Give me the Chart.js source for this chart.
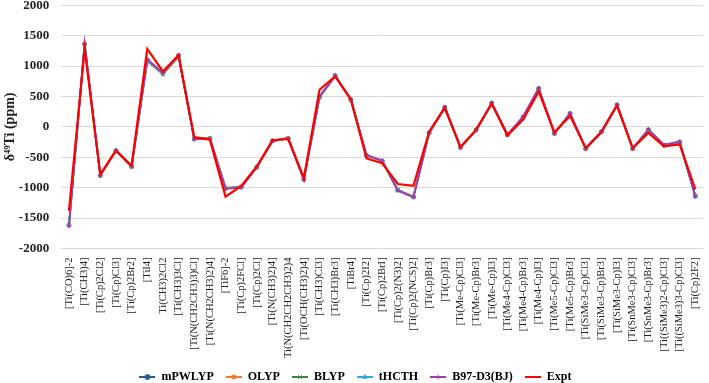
<!DOCTYPE html>
<html>
<head>
<meta charset="utf-8">
<script src="https://cdn.jsdelivr.net/npm/chart.js@4"></script>
<style>
  html, body { margin: 0; padding: 0; background: #fff; }
  #wrap { width: 709px; height: 383px; }
</style>
</head>
<body>
<div id="wrap"><canvas id="shift-chart"></canvas></div>
<script>
const categories = [
  "[Ti(CO)6]-2", "[Ti(CH3)4]", "[Ti(Cp)2Cl2]", "[Ti(Cp)Cl3]", "[Ti(Cp)2Br2]",
  "[TiI4]", "Ti(CH3)2Cl2", "[Ti(CH3)3Cl]", "[Ti(N(CH2CH3)3)Cl]", "[Ti(N(CH2CH3)2)4]",
  "[TiF6]-2", "[Ti(Cp)2FCl]", "[Ti(Cp)2Cl]", "[Ti(N(CH3)2)4]", "Ti(N(CH2CH2CH3)2)4",
  "[Ti(OCH(CH3)2)4]", "[Ti(CH3)Cl3]", "[Ti(CH3)Br3]", "[TiBr4]", "[Ti(Cp)2I2]",
  "[Ti(Cp)2BrI]", "[Ti(Cp)2(N3)2]", "[Ti(Cp)2(NCS)2]", "[Ti(Cp)Br3]", "[Ti(Cp)I3]",
  "[Ti(Me-Cp)Cl3]", "[Ti(Me-Cp)Br3]", "[Ti(Me-Cp)I3]", "[Ti(Me4-Cp)Cl3]", "[Ti(Me4-Cp)Br3]",
  "[Ti(Me4-Cp)I3]", "[Ti(Me5-Cp)Cl3]", "[Ti(Me5-Cp)Br3]", "[Ti(SiMe3-Cp)Cl3]", "[Ti(SiMe3-Cp)Br3]",
  "[Ti(SiMe3-Cp)I3]", "[Ti(SnMe3-Cp)Cl3]", "[Ti(SnMe3-Cp)Br3]", "[Ti((SiMe3)2-Cp)Cl3]", "[Ti((SiMe3)3-Cp)Cl3]",
  "[Ti(Cp)2F2]",
];

const mpwlyp = [-1620, 1360, -800, -390, -650, 1100, 880, 1170, -200, -190, -1010, -990, -660, -230, -190, -865, 490, 840, 450, -470, -560, -1040, -1150, -100, 320, -340, -50, 390, -130, 160, 630, -110, 220, -360, -80, 360, -360, -50, -300, -250, -1140];
const olyp = [-1610, 1355, -805, -395, -665, 1080, 860, 1150, -195, -185, -1000, -985, -670, -225, -180, -860, 480, 830, 445, -475, -565, -1035, -1145, -110, 310, -345, -60, 380, -140, 150, 615, -115, 210, -365, -85, 350, -365, -60, -310, -260, -1130];
const blyp = [-1615, 1350, -800, -390, -655, 1085, 875, 1160, -200, -190, -1010, -990, -660, -235, -190, -865, 490, 835, 450, -470, -560, -1040, -1150, -100, 315, -340, -55, 385, -135, 155, 620, -110, 215, -360, -80, 355, -360, -55, -305, -255, -1135];
const thcth = [-1620, 1360, -795, -385, -650, 1095, 870, 1170, -205, -190, -1015, -995, -655, -230, -185, -860, 495, 840, 455, -465, -555, -1045, -1155, -105, 320, -335, -50, 390, -130, 160, 625, -105, 220, -355, -75, 360, -355, -50, -300, -250, -1140];
const b97 = [-1625, 1365, -800, -390, -650, 1110, 890, 1180, -205, -195, -1020, -1000, -660, -235, -190, -870, 500, 845, 455, -465, -555, -1050, -1160, -95, 325, -340, -45, 395, -130, 170, 640, -110, 225, -360, -75, 365, -360, -40, -295, -240, -1150];
const expt = [-1380, 1280, -780, -390, -640, 1280, 910, 1180, -170, -210, -1150, -970, -650, -220, -200, -840, 610, 830, 450, -520, -600, -940, -970, -80, 310, -330, -50, 380, -140, 120, 580, -90, 180, -350, -90, 350, -350, -100, -320, -290, -1030];

const yTicks = [-2000, -1500, -1000, -500, 0, 500, 1000, 1500, 2000];

const FONT = "'Liberation Serif', 'Times New Roman', serif";

// small legend glyph: a line with the series marker on it
const legendGlyph = (color, style) => {
  const c = document.createElement("canvas");
  c.width = 16;
  c.height = 8;
  const ctx = c.getContext("2d");
  ctx.strokeStyle = color;
  ctx.fillStyle = color;
  ctx.lineWidth = 2;
  ctx.beginPath();
  ctx.moveTo(0, 4);
  ctx.lineTo(16, 4);
  ctx.stroke();
  if (style) {
    ctx.lineWidth = 1;
    Chart.helpers.drawPoint(ctx, { pointStyle: style, radius: 2.5, borderWidth: 1 }, 8, 4);
  }
  return c;
};

const series = [
  { label: "mPWLYP", data: mpwlyp, color: "#255e91", style: "circle" },
  { label: "OLYP", data: olyp, color: "#ed7d31", style: "rect" },
  { label: "BLYP", data: blyp, color: "#3a8a3a", style: "crossRot" },
  { label: "tHCTH", data: thcth, color: "#35a7e0", style: "triangle" },
  { label: "B97-D3(BJ)", data: b97, color: "#a63ca6", style: "cross" },
  { label: "Expt", data: expt, color: "#ff0000", style: false },
];

const datasets = series.map((s, i) => ({
  label: s.label,
  data: s.data,
  borderColor: s.color,
  backgroundColor: s.color,
  borderWidth: s.label === "Expt" ? 2.2 : 1.8,
  pointStyle: s.style,
  pointRadius: s.style ? 2 : 0,
  pointBorderWidth: 1,
  tension: 0,
  order: s.label === "Expt" ? 0 : series.length - i,
}));

new Chart(document.getElementById("shift-chart"), {
  type: "line",
  data: { labels: categories, datasets: datasets },
  options: {
    responsive: true,
    maintainAspectRatio: false,
    animation: false,
    layout: { padding: { top: 0, right: 0, bottom: -10, left: 2 } },
    plugins: {
      tooltip: { enabled: false },
      legend: {
        position: "bottom",
        labels: {
          usePointStyle: true,
          pointStyleWidth: 16,
          boxHeight: 8,
          padding: 12,
          color: "#222",
          font: { family: FONT, size: 12, weight: "bold" },
          generateLabels: (chart) =>
            chart.data.datasets.map((ds, i) => ({
              text: ds.label,
              pointStyle: legendGlyph(series[i].color, series[i].style),
              fillStyle: series[i].color,
              strokeStyle: series[i].color,
              lineWidth: 0,
              hidden: false,
              datasetIndex: i,
            })),
        },
      },
    },
    scales: {
      x: {
        offset: true,
        grid: { display: false },
        border: { display: false },
        ticks: {
          autoSkip: false,
          minRotation: 90,
          maxRotation: 90,
          padding: 1,
          color: "#222",
          font: { family: FONT, size: 10.5 },
        },
      },
      y: {
        min: -2000,
        max: 2000,
        afterBuildTicks: (axis) => {
          axis.ticks = yTicks.map((v) => ({ value: v }));
        },
        // transparent tick marks keep the gap between labels and plot
        grid: { color: "#d9d9d9", lineWidth: 1, drawTicks: true, tickLength: 12, tickColor: "rgba(0,0,0,0)" },
        border: { display: false },
        ticks: {
          padding: 0,
          color: "#222",
          font: { family: FONT, size: 13, weight: "bold", lineHeight: 0.8 },
          callback: (v) => String(v),
        },
        title: {
          display: true,
          text: "δ⁴⁹Ti (ppm)",
          color: "#222",
          padding: { top: 0, bottom: 0 },
          font: { family: FONT, size: 14, weight: "bold" },
        },
      },
    },
  },
});
</script>
</body>
</html>
